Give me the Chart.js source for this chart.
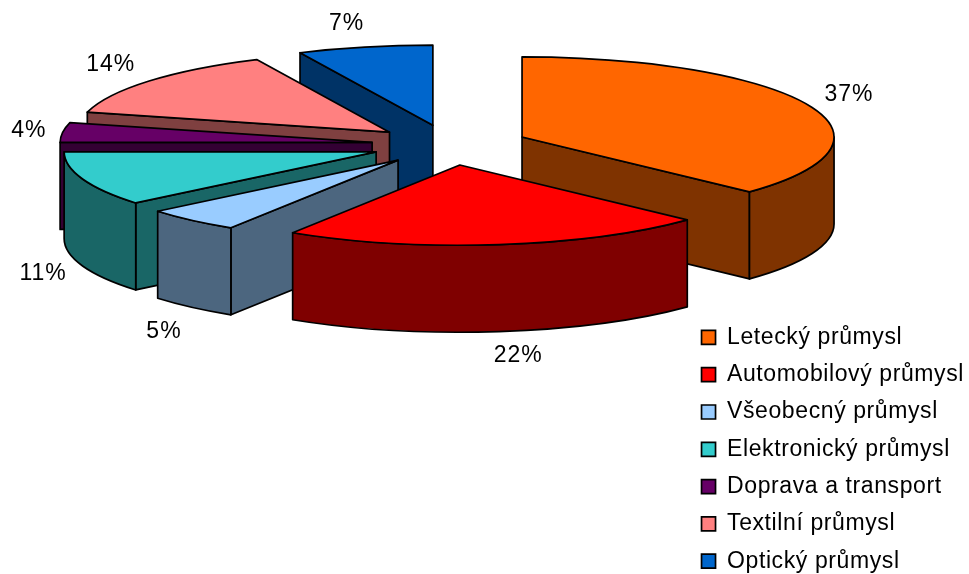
<!DOCTYPE html>
<html>
<head>
<meta charset="utf-8">
<title>Průmysl</title>
<script src="https://cdn.jsdelivr.net/npm/chart.js@4"></script>
<style>
  body { margin: 0; background: #fff; }
  canvas { display: block; }
</style>
</head>
<body>
<canvas id="chartPrumysl" width="969" height="574"></canvas>
<script>
const categorias = ['Letecký průmysl', 'Automobilový průmysl', 'Všeobecný průmysl', 'Elektronický průmysl', 'Doprava a transport', 'Textilní průmysl', 'Optický průmysl'];
const valores = [37, 22, 5, 11, 4, 14, 7];
const cores = ['#FF6600', '#FF0000', '#99CCFF', '#33CCCC', '#660066', '#FF8080', '#0066CC'];

// 3D look of the pie
const centro = { x: 450, y: 145 };
const achatamento = 0.257;
const altura = 87;
const fonteRotulo = '23px "Liberation Sans"';
// small corrections for the labels that do not sit on the regular ring
const ajusteRotulo = [[2, -1], [14, 0], [0, 6], [0, 0], [8, 1], [-6, -1], [-9, 0]];

function escurecer(hex) {
    const n = parseInt(hex.slice(1), 16);
    const r = (n >> 16) >> 1;
    const g = ((n >> 8) & 255) >> 1;
    const b = (n & 255) >> 1;
    return `rgb(${r},${g},${b})`;
}

function pintar(ctx, cor) {
    ctx.fillStyle = cor;
    ctx.fill();
    ctx.stroke();
}

function desenharFatia(ctx, fatia) {
    const { ax, ay, raio, ini, fim, cor } = fatia;
    const ry = raio * achatamento;
    const lateral = escurecer(cor);

    // cut walls, only the ones facing the viewer
    [[ini, -Math.cos(ini)], [fim, Math.cos(fim)]].forEach(([ang, frente]) => {
        if (frente <= 0.001) return;
        const px = ax + Math.cos(ang) * raio;
        const py = ay + Math.sin(ang) * ry;
        ctx.beginPath();
        ctx.moveTo(ax, ay);
        ctx.lineTo(px, py);
        ctx.lineTo(px, py + altura);
        ctx.lineTo(ax, ay + altura);
        ctx.closePath();
        pintar(ctx, lateral);
    });

    // outer wall, front half of the ellipse
    const f0 = Math.max(ini, 0);
    const f1 = Math.min(fim, Math.PI);
    if (f1 > f0) {
        ctx.beginPath();
        ctx.ellipse(ax, ay, raio, ry, 0, f0, f1);
        ctx.ellipse(ax, ay + altura, raio, ry, 0, f1, f0, true);
        ctx.closePath();
        pintar(ctx, lateral);
    }

    // top
    ctx.beginPath();
    ctx.moveTo(ax, ay);
    ctx.ellipse(ax, ay, raio, ry, 0, ini, fim);
    ctx.closePath();
    pintar(ctx, cor);
}

function desenharRotulo(ctx, fatia) {
    const { ax, ay, raio, ini, fim, indice } = fatia;
    const meio = (ini + fim) / 2;
    const cx = Math.cos(meio);
    const sy = Math.sin(meio);
    const [ajX, ajY] = ajusteRotulo[indice];
    const x = ax + cx * (raio + 42) + ajX;
    let y = ay + sy * (raio * achatamento + 24) + ajY;
    if (sy > 0.2) y += altura;
    ctx.fillText(`${valores[indice]}%`, x, y);
}

const pizza3d = {
    id: 'pizza3d',
    beforeLayout(chart) {
        // the original text runs a bit wider than the font
        chart.ctx.letterSpacing = '0.6px';
    },
    beforeDatasetDraw(chart, args) {
        const ctx = chart.ctx;
        const fatias = chart.getDatasetMeta(args.index).data.map((arco, indice) => {
            const p = arco.getProps(['x', 'y', 'startAngle', 'endAngle', 'outerRadius']);
            const meio = (p.startAngle + p.endAngle) / 2;
            const deslocamento = arco.options.offset;
            return {
                indice,
                cor: cores[indice],
                raio: p.outerRadius,
                ini: p.startAngle,
                fim: p.endAngle,
                ax: centro.x + Math.cos(meio) * deslocamento,
                ay: centro.y + Math.sin(meio) * deslocamento * achatamento
            };
        });

        ctx.save();
        ctx.strokeStyle = '#000';
        ctx.lineWidth = 1.7;
        ctx.lineJoin = 'round';
        // back to front
        [...fatias].sort((a, b) => a.ay - b.ay).forEach(f => desenharFatia(ctx, f));

        ctx.fillStyle = '#000';
        ctx.font = fonteRotulo;
        ctx.letterSpacing = '1px';
        ctx.textAlign = 'center';
        ctx.textBaseline = 'middle';
        fatias.forEach(f => desenharRotulo(ctx, f));
        ctx.restore();
        return false;
    }
};

Chart.defaults.font.family = '"Liberation Sans"';

new Chart(document.getElementById('chartPrumysl'), {
    type: 'pie',
    data: {
        labels: categorias,
        datasets: [{
            data: valores,
            backgroundColor: cores,
            borderColor: '#000',
            borderWidth: 1.7,
            offset: 78.5,
            radius: 312
        }]
    },
    options: {
        responsive: false,
        animation: false,
        layout: { padding: { bottom: -13, right: -5 } },
        plugins: {
            tooltip: { enabled: false },
            legend: {
                position: 'right',
                align: 'end',
                labels: {
                    color: '#000',
                    boxWidth: 14,
                    boxHeight: 14,
                    padding: 14.3,
                    font: { size: 23 }
                }
            }
        }
    },
    plugins: [pizza3d]
});
</script>
</body>
</html>
